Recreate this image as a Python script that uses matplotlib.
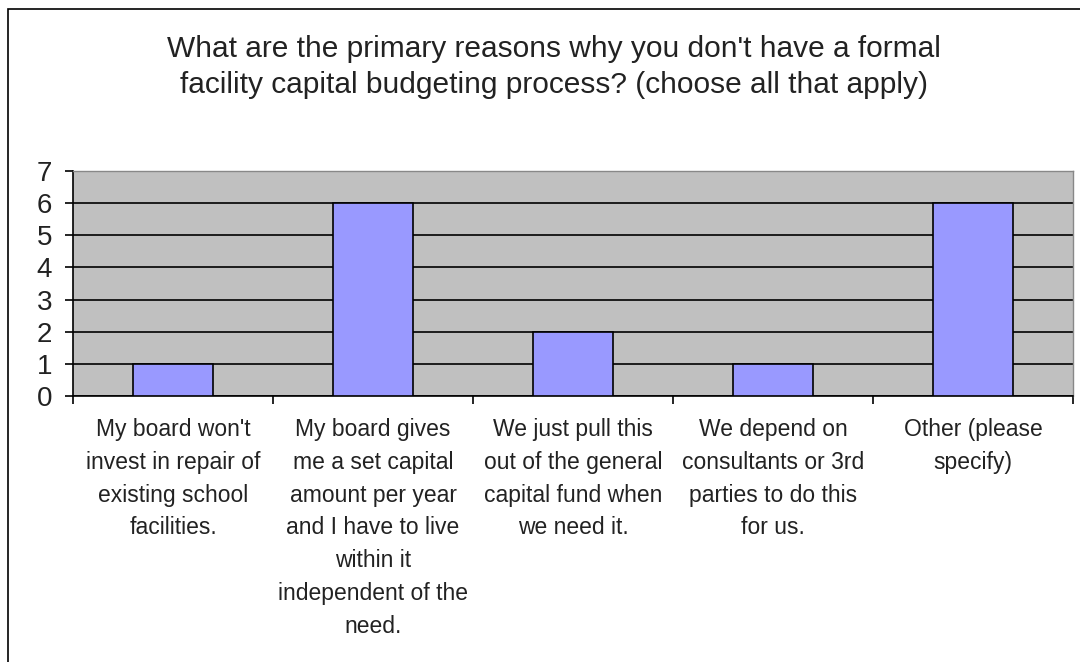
import matplotlib
matplotlib.use('Agg')
import matplotlib.pyplot as plt
from matplotlib.patches import Rectangle

title = "What are the primary reasons why you don't have a formal\nfacility capital budgeting process? (choose all that apply)"
categories = [
    "My board won't\ninvest in repair of\nexisting school\nfacilities.",
    "My board gives\nme a set capital\namount per year\nand I have to live\nwithin it\nindependent of the\nneed.",
    "We just pull this\nout of the general\ncapital fund when\nwe need it.",
    "We depend on\nconsultants or 3rd\nparties to do this\nfor us.",
    "Other (please\nspecify)",
]
counts = [1, 6, 2, 1, 6]
y_ticks = [0, 1, 2, 3, 4, 5, 6, 7]

plt.rcParams['font.family'] = ['Liberation Sans', 'DejaVu Sans']

fig = plt.figure(figsize=(10.8, 6.62), dpi=100)
fig.patch.set_facecolor('white')

# outer chart border (only left/top visible in the reference)
fig.add_artist(Rectangle((8 / 1080, -0.05), 1.2, 1 - 9 / 662 + 0.05,
                         transform=fig.transFigure, fill=False,
                         edgecolor='black', linewidth=1.2))

ax = fig.add_axes([73 / 1080, 1 - 396 / 662, 1000 / 1080, 225 / 662])
ax.set_facecolor('#c0c0c0')

x = list(range(len(categories)))
ax.bar(x, counts, width=0.4, color='#9999ff', edgecolor='black',
       linewidth=1.2, zorder=3)

ax.set_xlim(-0.5, len(categories) - 0.5)
ax.set_ylim(0, 7)
ax.set_yticks(y_ticks)
ax.set_yticklabels([str(v) for v in y_ticks], fontsize=20, color='#222222')
ax.yaxis.grid(True, color='black', linewidth=1.2, zorder=1)
ax.set_axisbelow(True)

# ticks sit on the category boundaries, labels centred under bars
ax.set_xticks([i - 0.5 for i in range(len(categories) + 1)])
ax.set_xticklabels([])
ax.set_xticks(x, minor=True)
ax.set_xticklabels(categories, minor=True, fontsize=16.5, color='#222222',
                   linespacing=1.54, va='top')
ax.tick_params(axis='x', which='minor', length=0, pad=16)
ax.tick_params(axis='x', which='major', length=6, width=1.2, direction='out')
ax.tick_params(axis='y', length=6, width=1.2, direction='out', pad=9)

for side in ['top', 'right']:
    ax.spines[side].set_color('#888888')
    ax.spines[side].set_linewidth(1)
for side in ['left', 'bottom']:
    ax.spines[side].set_color('black')
    ax.spines[side].set_linewidth(1.2)

fig.text(554 / 1080, 1 - 67 / 662, title, ha='center', va='center',
         fontsize=21.5, color='#222222', linespacing=1.32)

fig.savefig('out.png', dpi=100)
